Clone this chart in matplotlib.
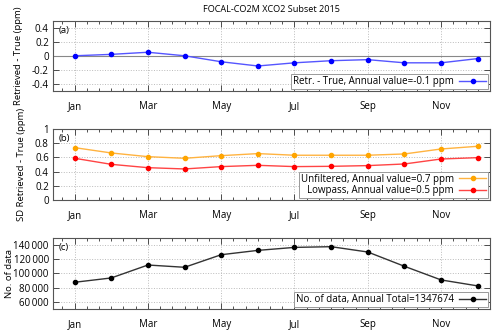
import matplotlib
matplotlib.use("Agg")
import matplotlib.pyplot as plt
from matplotlib.ticker import MultipleLocator, FuncFormatter

plt.rcParams['font.family'] = ['Open Sans', 'DejaVu Sans']
plt.rcParams['font.size'] = 7

months = list(range(1, 13))
tick_months = [1, 3, 5, 7, 9, 11]
tick_labels = ["Jan", "Mar", "May", "Jul", "Sep", "Nov"]

bias = [0.0, 0.02, 0.05, 0.0, -0.085, -0.145, -0.1, -0.07, -0.055, -0.1, -0.1, -0.04]
sd_unfiltered = [0.737, 0.662, 0.61, 0.587, 0.624, 0.653, 0.63, 0.63, 0.63, 0.648, 0.718, 0.756]
sd_lowpass = [0.587, 0.502, 0.455, 0.437, 0.47, 0.488, 0.47, 0.474, 0.484, 0.507, 0.577, 0.596]
n_data = [87600, 93700, 111900, 108700, 126400, 132500, 136700, 137700, 130200, 110100, 90900, 82500]


def style_axes(ax, label):
    ax.set_xlim(0.41, 12.335)
    ax.set_xticks(tick_months)
    ax.set_xticklabels(tick_labels)
    ax.xaxis.set_minor_locator(MultipleLocator(1 / 3))
    ax.tick_params(which='both', direction='in', top=True, right=True, colors='#333333', labelcolor='black')
    ax.tick_params(which='major', length=4, width=0.6)
    ax.tick_params(which='minor', length=2, width=0.6)
    ax.tick_params(axis='x', pad=7)
    ax.tick_params(axis='y', pad=3)
    ax.grid(True, which='major', linestyle=':', color='#bbbbbb', linewidth=0.7)
    for s in ax.spines.values():
        s.set_color('#555555')
        s.set_linewidth(0.8)
    ax.text(0.012, 0.93, label, transform=ax.transAxes, va='top', ha='left', fontsize=6.8)


fig = plt.figure(figsize=(5, 3.32), dpi=100)
ax1 = fig.add_axes([0.106, 0.726, 0.874, 0.212])
ax2 = fig.add_axes([0.106, 0.3976, 0.874, 0.214])
ax3 = fig.add_axes([0.106, 0.0693, 0.874, 0.214])

leg_kw = dict(loc='lower right', markerfirst=False, fancybox=False, framealpha=1,
              edgecolor='#999999', handlelength=2.8, handletextpad=0.5, borderpad=0.2,
              labelspacing=0.05, borderaxespad=0.2, fontsize=7)

# (a)
ax1.axhline(0, color='#888888', linewidth=0.8)
ax1.plot(months, bias, color='#5555ff', linewidth=1.0, marker='o', markersize=3,
         markerfacecolor='#0000ff', markeredgecolor='#0000ff',
         label='Retr. - True, Annual value=-0.1 ppm')
ax1.set_ylim(-0.5, 0.5)
ax1.set_yticks([-0.4, -0.2, 0, 0.2, 0.4])
ax1.set_yticklabels(['-0.4', '-0.2', '0', '0.2', '0.4'])
ax1.set_ylabel('Retrieved - True (ppm)', fontsize=6.8)
ax1.yaxis.set_label_coords(-0.068, 0.5)
style_axes(ax1, '(a)')
leg = ax1.legend(**leg_kw)
leg.get_frame().set_linewidth(0.7)
ax1.set_title('FOCAL-CO2M XCO2 Subset 2015', fontsize=6.6, pad=6)

# (b)
ax2.plot(months, sd_unfiltered, color='#ffb340', linewidth=1.0, marker='o', markersize=3,
         markerfacecolor='#ffa500', markeredgecolor='#ffa500',
         label='Unfiltered, Annual value=0.7 ppm')
ax2.plot(months, sd_lowpass, color='#ff4444', linewidth=1.0, marker='o', markersize=3,
         markerfacecolor='#ff0000', markeredgecolor='#ff0000',
         label='Lowpass, Annual value=0.5 ppm')
ax2.set_ylim(0, 1)
ax2.set_yticks([0, 0.2, 0.4, 0.6, 0.8, 1])
ax2.set_yticklabels(['0', '0.2', '0.4', '0.6', '0.8', '1'])
ax2.set_ylabel('SD Retrieved - True (ppm)', fontsize=6.8)
ax2.yaxis.set_label_coords(-0.062, 0.5)
style_axes(ax2, '(b)')
leg = ax2.legend(**leg_kw)
leg.get_frame().set_linewidth(0.7)

# (c)
ax3.plot(months, n_data, color='#333333', linewidth=1.0, marker='o', markersize=3,
         markerfacecolor='black', markeredgecolor='black',
         label='No. of data, Annual Total=1347674')
ax3.set_ylim(50000, 150000)
ax3.set_yticks([60000, 80000, 100000, 120000, 140000])
ax3.yaxis.set_major_formatter(FuncFormatter(lambda v, p: f"{int(v):,}".replace(",", "\u2009")))
ax3.set_ylabel('No. of data', fontsize=6.8)
ax3.yaxis.set_label_coords(-0.09, 0.5)
style_axes(ax3, '(c)')
leg = ax3.legend(**leg_kw)
leg.get_frame().set_linewidth(0.7)

fig.savefig('out.png', dpi=100)
